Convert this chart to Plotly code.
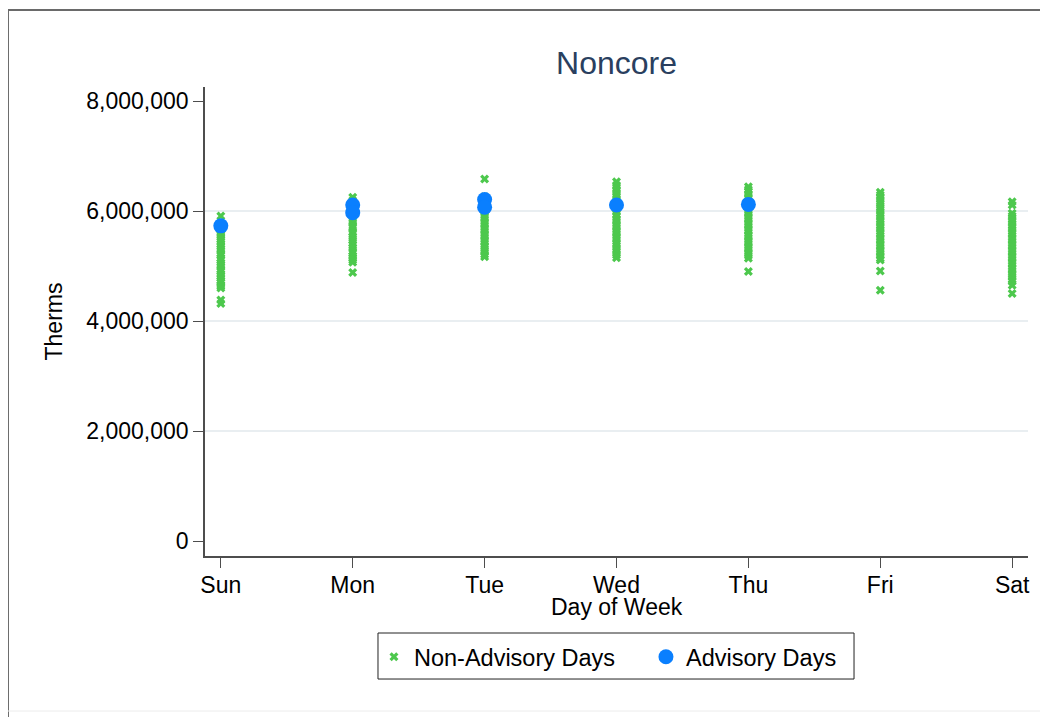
import plotly.graph_objects as go

days = ["Sun", "Mon", "Tue", "Wed", "Thu", "Fri", "Sat"]

sun_non = [5910000, 5640000, 5610000, 5570000, 5520000, 5480000, 5450000, 5400000, 5350000, 5310000,
           5280000, 5230000, 5190000, 5140000, 5110000, 5060000, 5020000, 4990000, 4940000, 4900000,
           4850000, 4820000, 4780000, 4730000, 4700000, 4660000, 4630000, 4600000, 4380000, 4320000]
mon_non = [6250000, 6190000, 6140000, 6080000, 6020000, 5950000, 5900000, 5840000, 5790000, 5730000,
           5690000, 5620000, 5580000, 5530000, 5470000, 5420000, 5380000, 5330000, 5270000, 5230000,
           5180000, 5140000, 5110000, 5070000, 4880000]
tue_non = [6580000, 6260000, 6200000, 6150000, 6090000, 6030000, 5980000, 5920000, 5870000, 5810000,
           5760000, 5700000, 5650000, 5590000, 5540000, 5480000, 5430000, 5370000, 5320000, 5270000,
           5210000, 5170000]
wed_non = [6530000, 6470000, 6420000, 6370000, 6310000, 6260000, 6200000, 6140000, 6090000, 6030000,
           5980000, 5920000, 5860000, 5810000, 5750000, 5700000, 5640000, 5590000, 5530000, 5480000,
           5420000, 5370000, 5310000, 5260000, 5200000, 5150000]
thu_non = [6440000, 6390000, 6350000, 6300000, 6240000, 6180000, 6130000, 6070000, 6010000, 5960000,
           5900000, 5850000, 5790000, 5740000, 5680000, 5630000, 5570000, 5520000, 5460000, 5410000,
           5350000, 5300000, 5240000, 5190000, 5140000, 4900000]
fri_non = [6340000, 6290000, 6240000, 6180000, 6130000, 6070000, 6020000, 5960000, 5910000, 5850000,
           5800000, 5740000, 5690000, 5630000, 5580000, 5520000, 5470000, 5410000, 5360000, 5300000,
           5250000, 5190000, 5140000, 5110000, 4910000, 4560000]
sat_non = [6170000, 6110000, 5960000, 5910000, 5850000, 5800000, 5740000, 5690000, 5630000, 5580000,
           5520000, 5470000, 5410000, 5360000, 5300000, 5250000, 5190000, 5140000, 5080000, 5030000,
           4970000, 4920000, 4860000, 4810000, 4760000, 4720000, 4650000, 4500000]

adv_days = ["Sun", "Mon", "Mon", "Tue", "Tue", "Wed", "Thu"]
adv_therms = [5730000, 6110000, 5970000, 6210000, 6070000, 6110000, 6120000]

y_ticks = [0, 2000000, 4000000, 6000000, 8000000]
grid_vals = [2000000, 4000000, 6000000]

FONT = "Liberation Sans, Arial, sans-serif"
GREEN = "#4dc84d"
BLUE = "#0a7ffe"
AXIS = "#4d4d4d"

non_x, non_y = [], []
for d, vals in zip(days, [sun_non, mon_non, tue_non, wed_non, thu_non, fri_non, sat_non]):
    non_x += [d] * len(vals)
    non_y += vals

fig = go.Figure()
fig.add_trace(go.Scatter(x=non_x, y=non_y, mode="markers", name="Non-Advisory Days",
                         marker=dict(symbol="x", size=8, color=GREEN, line=dict(width=0))))
fig.add_trace(go.Scatter(x=adv_days, y=adv_therms, mode="markers", name="Advisory Days",
                         marker=dict(symbol="circle", size=15, color=BLUE, line=dict(width=0))))

shapes = []
for g in grid_vals:
    shapes.append(dict(type="line", xref="paper", yref="y", x0=0, x1=1, y0=g, y1=g,
                       line=dict(color="#e9eef1", width=2), layer="below"))
# outer frame
shapes.append(dict(type="rect", xref="paper", yref="paper", x0=-0.2394, x1=1.03, y0=-0.36, y1=1.1642,
                   line=dict(color="#6a6a6a", width=2)))
shapes.append(dict(type="line", xref="paper", yref="paper", x0=-0.2394, x1=1.03, y0=-0.3305, y1=-0.3305,
                   line=dict(color="#ececec", width=1)))
# legend box
shapes.append(dict(type="rect", xref="paper", yref="paper", x0=0.2102, x1=0.7886, y0=-0.2623, y1=-0.1642,
                   line=dict(color="#222222", width=1)))

annotations = [
    dict(text="Day of Week", xref="paper", yref="paper", x=0.5, y=-0.1087, xanchor="center",
         yanchor="middle", showarrow=False, font=dict(family=FONT, size=23, color="black")),
    dict(text="Therms", xref="paper", yref="paper", x=-0.1835, y=0.5, xanchor="center",
         yanchor="middle", textangle=-90, showarrow=False, font=dict(family=FONT, size=23, color="black")),
]

fig.update_layout(
    width=1040,
    height=709,
    margin=dict(l=197, r=20, t=79, b=161, autoexpand=False),
    plot_bgcolor="white",
    paper_bgcolor="white",
    font=dict(family=FONT, size=23, color="black"),
    title=dict(text="Noncore", x=0.5, xref="paper", xanchor="center", y=1 - 55 / 709, yanchor="middle",
               font=dict(family=FONT, size=32, color="#2a3f5f")),
    xaxis=dict(
        type="category",
        categoryorder="array",
        categoryarray=days,
        range=[-0.12, 6.12],
        showgrid=False,
        zeroline=False,
        showline=True,
        linecolor=AXIS,
        linewidth=1.5,
        ticks="outside",
        ticklen=10,
        tickcolor=AXIS,
        tickwidth=1,
        ticklabelstandoff=-2,
    ),
    yaxis=dict(
        range=[-272727, 8254545],
        tickvals=y_ticks,
        tickformat=",d",
        showgrid=False,
        zeroline=False,
        showline=True,
        linecolor=AXIS,
        linewidth=1.5,
        ticks="outside",
        ticklen=10,
        tickcolor=AXIS,
        tickwidth=1,
    ),
    showlegend=True,
    legend=dict(
        orientation="h",
        x=0.2053,
        xanchor="left",
        y=-0.2154,
        yanchor="middle",
        borderwidth=0,
        bgcolor="rgba(0,0,0,0)",
        entrywidth=227,
        font=dict(family=FONT, size=23.5),
    ),
    annotations=annotations,
    shapes=shapes,
)

fig.write_html("out.html")
